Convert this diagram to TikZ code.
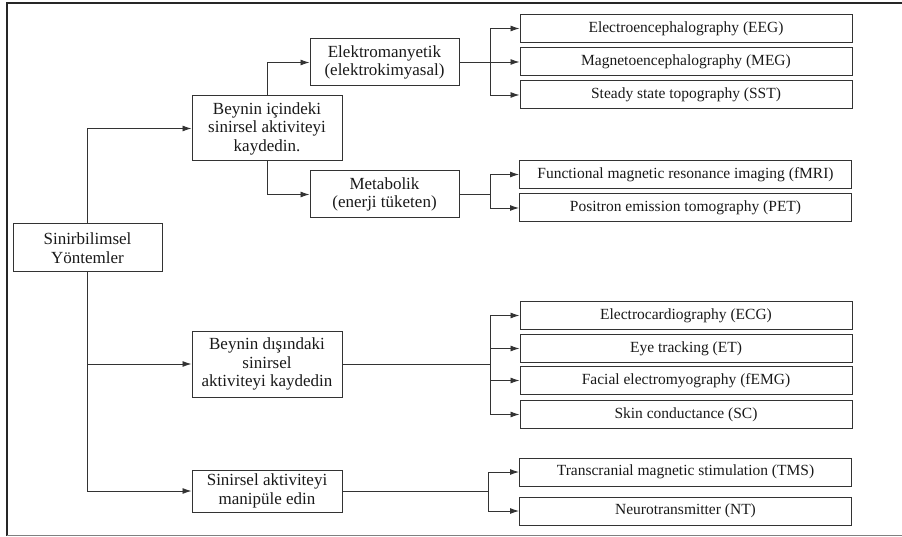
\documentclass[tikz,border=0pt]{standalone}
\usepackage{fontspec}
\setmainfont{Liberation Serif}
\usetikzlibrary{arrows.meta}
\tikzset{every path/.style={color=black!80, line width=0.9pt},
  midbox/.style={draw=black!80, text=black!90, line width=1pt, align=center, inner sep=1pt, font=\rmfamily\fontsize{17}{18.5}\selectfont, minimum width=150pt},
  leafbox/.style={draw=black!80, text=black!90, line width=1pt, align=center, inner sep=1pt, font=\rmfamily\fontsize{15.5}{17}\selectfont, minimum width=332pt, minimum height=28pt},
  oklu/.style={-{Latex[length=9pt,width=6pt]}}}

\begin{document}
\begin{tikzpicture}[x=1pt,y=-1pt]
  \useasboundingbox (0,0) rectangle (902,537);
  % frame
  \draw[line width=2pt, black!85] (902,3) -- (6.5,3) -- (6.5,536);
  \draw[line width=1pt, black!50] (6.5,535.5) -- (902,535.5);

  \node[midbox, minimum width=149pt, minimum height=48pt] (root) at (87.5,248) {Sinirbilimsel\\Yöntemler};
  \node[midbox, minimum height=65pt] (inside) at (267,128.5) {Beynin içindeki\\sinirsel aktiviteyi\\kaydedin.};
  \node[midbox, minimum width=149pt, minimum height=47pt] (em) at (384.5,62.5) {Elektromanyetik\\(elektrokimyasal)};
  \node[midbox, minimum width=149pt, minimum height=47pt] (met) at (384.5,194.5) {Metabolik\\(enerji tüketen)};
  \node[midbox, minimum height=66pt] (outside) at (267,364) {Beynin dışındaki\\sinirsel\\aktiviteyi kaydedin};
  \node[midbox, minimum height=42pt] (manip) at (267,491) {Sinirsel aktiviteyi\\manipüle edin};

  \node[leafbox] (eeg)  at (686,28.5)  {Electroencephalography (EEG)};
  \node[leafbox] (meg)  at (686,62)    {Magnetoencephalography (MEG)};
  \node[leafbox] (sst)  at (686,95)    {Steady state topography (SST)};
  \node[leafbox] (fmri) at (685.5,174.5) {Functional magnetic resonance imaging (fMRI)};
  \node[leafbox] (pet)  at (685.5,208) {Positron emission tomography (PET)};
  \node[leafbox] (ecg)  at (686,315.5) {Electrocardiography (ECG)};
  \node[leafbox] (et)   at (686,348.5) {Eye tracking (ET)};
  \node[leafbox] (femg) at (686,380.5) {Facial electromyography (fEMG)};
  \node[leafbox] (sc)   at (686,414.5) {Skin conductance (SC)};
  \node[leafbox] (tms)  at (685.5,472) {Transcranial magnetic stimulation (TMS)};
  \node[leafbox] (nt)   at (685.5,511) {Neurotransmitter (NT)};

  \coordinate (emj)  at (490,62.5);
  \coordinate (metj) at (490,194.5);
  \coordinate (outj) at (490,364);
  \coordinate (manj) at (488,491);

  % left side
  \draw[oklu] (root.north) |- (inside.west);
  \draw[oklu] (root.south) |- (outside.west);
  \draw[oklu] (root.south) |- (manip.west);
  \draw[oklu] (inside.north) |- (em.west);
  \draw[oklu] (inside.south) |- (met.west);

  % right side
  \draw (em.east) -- (emj);
  \foreach \t in {eeg,meg,sst} \draw[oklu] (emj) |- (\t.west);
  \draw (met.east) -- (metj);
  \foreach \t in {fmri,pet} \draw[oklu] (metj) |- (\t.west);
  \draw (outside.east) -- (outj);
  \foreach \t in {ecg,et,femg,sc} \draw[oklu] (outj) |- (\t.west);
  \draw (manip.east) -- (manj);
  \foreach \t in {tms,nt} \draw[oklu] (manj) |- (\t.west);
\end{tikzpicture}
\end{document}
